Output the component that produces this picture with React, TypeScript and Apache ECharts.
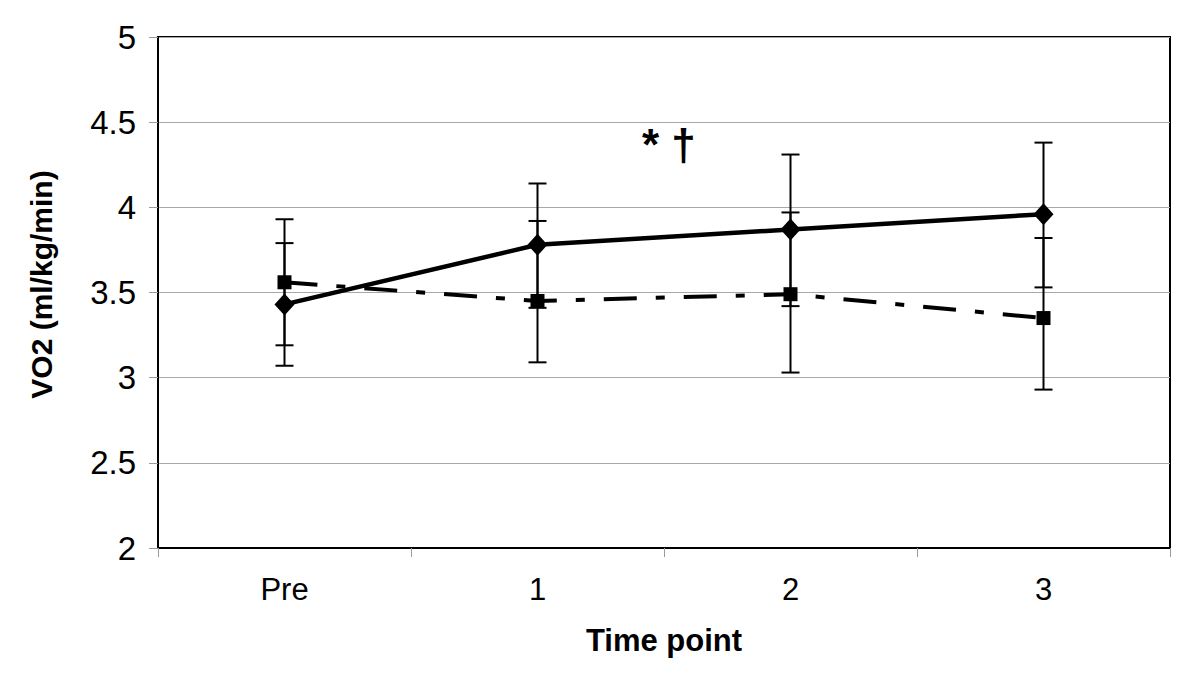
import React, { useEffect, useRef } from "react";
import * as echarts from "echarts";

const categories = ["Pre", "1", "2", "3"];
const solidValues = [3.43, 3.78, 3.87, 3.96];
const solidLow = [3.07, 3.41, 3.42, 3.53];
const solidHigh = [3.79, 4.14, 4.31, 4.38];
const dashValues = [3.56, 3.45, 3.49, 3.35];
const dashLow = [3.19, 3.09, 3.03, 2.93];
const dashHigh = [3.93, 3.92, 3.97, 3.82];
const yTicks = { min: 2, max: 5, interval: 0.5 };

function errorData(low: number[], high: number[]) {
  return low.map((l, i) => [i, l, high[i]]);
}

const renderError = (params: any, api: any) => {
  const x = api.value(0);
  const lo = api.coord([x, api.value(1)]);
  const hi = api.coord([x, api.value(2)]);
  const cap = 9;
  const style = { stroke: "#000", lineWidth: 2 };
  return {
    type: "group",
    children: [
      { type: "line", shape: { x1: lo[0], y1: lo[1], x2: hi[0], y2: hi[1] }, style },
      { type: "line", shape: { x1: lo[0] - cap, y1: lo[1], x2: lo[0] + cap, y2: lo[1] }, style },
      { type: "line", shape: { x1: hi[0] - cap, y1: hi[1], x2: hi[0] + cap, y2: hi[1] }, style },
    ],
  };
};

export default function App() {
  const ref = useRef<HTMLDivElement>(null);
  useEffect(() => {
    if (!ref.current) return;
    const chart = echarts.init(ref.current, null, { renderer: "svg" });
    const font = "'Liberation Sans', Arial, sans-serif";
    chart.setOption({
      animation: false,
      backgroundColor: "#fff",
      textStyle: { fontFamily: font },
      grid: {
        left: 158,
        right: 30,
        top: 37,
        bottom: 126,
        show: true,
        borderColor: "#000",
        borderWidth: 2,
      },
      xAxis: {
        type: "category",
        data: categories,
        boundaryGap: true,
        name: "Time point",
        nameLocation: "middle",
        nameGap: 77,
        nameTextStyle: { fontFamily: font, fontSize: 31, fontWeight: "bold", color: "#000" },
        axisLine: { lineStyle: { color: "#000", width: 2 } },
        axisTick: { show: true, inside: false, length: 9, alignWithLabel: false, lineStyle: { color: "#999", width: 1 } },
        axisLabel: { fontFamily: font, fontSize: 31, color: "#000", margin: 26 },
        splitLine: { show: false },
      },
      yAxis: {
        type: "value",
        min: yTicks.min,
        max: yTicks.max,
        interval: yTicks.interval,
        name: "VO2 (ml/kg/min)",
        nameLocation: "middle",
        nameGap: 102,
        nameRotate: 90,
        nameTextStyle: { fontFamily: font, fontSize: 30, fontWeight: "bold", color: "#000", padding: [0, 0, 0, 16] },
        axisLine: { show: true, lineStyle: { color: "#000", width: 2 } },
        axisTick: { show: true, inside: false, length: 9, lineStyle: { color: "#999", width: 1 } },
        axisLabel: { fontFamily: font, fontSize: 33, color: "#000", margin: 22 },
        splitLine: { show: true, lineStyle: { color: "#a8a8a8", width: 1 } },
      },
      graphic: [
        {
          type: "text",
          left: 642,
          top: 122,
          style: { text: "* †", fontFamily: font, fontSize: 44, fontWeight: "bold", fill: "#000" },
        },
      ],
      series: [
        {
          type: "custom",
          name: "solidErr",
          renderItem: renderError,
          data: errorData(solidLow, solidHigh),
          z: 1,
        },
        {
          type: "custom",
          name: "dashErr",
          renderItem: renderError,
          data: errorData(dashLow, dashHigh),
          z: 1,
        },
        {
          type: "line",
          name: "dash",
          data: dashValues,
          symbol: "rect",
          symbolSize: 14,
          itemStyle: { color: "#000" },
          lineStyle: { color: "#000", width: 4, type: [33, 19, 9, 19] },
          z: 3,
        },
        {
          type: "line",
          name: "solid",
          data: solidValues,
          symbol: "diamond",
          symbolSize: [20, 22],
          itemStyle: { color: "#000" },
          lineStyle: { color: "#000", width: 4.5 },
          z: 4,
        },
      ],
    });
    return () => chart.dispose();
  }, []);
  return <div ref={ref} style={{ width: 1200, height: 674, margin: -8 }} />;
}
